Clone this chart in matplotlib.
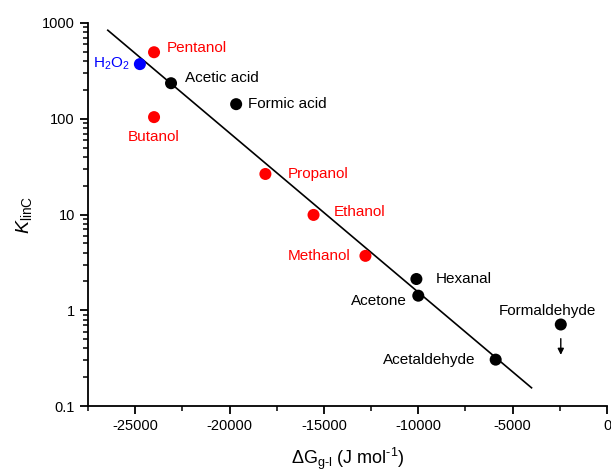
# K_linC versus gas-liquid free energy, log scale
import matplotlib.pyplot as plt
from matplotlib.ticker import FuncFormatter, LogLocator, MultipleLocator
import numpy as np

plt.rcParams['font.family'] = ['Liberation Sans', 'DejaVu Sans']
plt.rcParams['mathtext.fontset'] = 'custom'
plt.rcParams['mathtext.rm'] = 'Liberation Sans'
plt.rcParams['mathtext.it'] = 'Liberation Sans:italic'
plt.rcParams['axes.unicode_minus'] = False

# ------ Data ------
names = ['Pentanol', 'H$_2$O$_2$', 'Acetic acid', 'Formic acid', 'Butanol', 'Propanol',
         'Ethanol', 'Methanol', 'Hexanal', 'Acetone', 'Acetaldehyde', 'Formaldehyde']
dG = [-24000, -24750, -23100, -19650, -24000, -18100, -15550, -12800, -10100, -10000, -5900, -2450]
K = [495, 372, 235, 142, 104, 26.5, 9.9, 3.7, 2.12, 1.42, 0.305, 0.71]
colors = ['red', 'blue', 'black', 'black', 'red', 'red', 'red', 'red', 'black', 'black', 'black', 'black']

# fitted line end points
fit_dG = [-26450, -4000]
fit_K = [840, 0.155]

# upper-limit arrow for formaldehyde
arrow_K = [0.54, 0.32]

# label offsets in points and alignment
offsets = [(9, 3), (-7, 0), (10, 4), (8.5, 0), (0, -14.5), (16, 0), (14.5, 2), (-11, 0),
           (14, 0), (-8.5, -3.5), (-14.5, 0), (-9.5, 9.5)]
aligns = ['left', 'right', 'left', 'left', 'center', 'left', 'left', 'right', 'left', 'right', 'right', 'center']

# ------ Plot ------
fig = plt.figure(figsize=(6.11, 4.73), dpi=100)
ax = fig.add_axes([0.144, 0.1416, 0.8495, 0.8098])

ax.plot(fit_dG, fit_K, color='black', lw=1.2, zorder=1)
ax.scatter(dG, K, c=colors, s=75, edgecolors='none', zorder=2)

for n, x, y, c, off, ha in zip(names, dG, K, colors, offsets, aligns):
    ax.annotate(n, (x, y), xytext=off, textcoords='offset points', ha=ha, va='center',
                color=c, fontsize=11)

ax.annotate('', xy=(dG[-1], arrow_K[1]), xytext=(dG[-1], arrow_K[0]),
            arrowprops=dict(arrowstyle='-|>', color='black', lw=1, mutation_scale=9))

ax.set_yscale('log')
ax.set_xlim(-27500, 0)
ax.set_ylim(0.1, 1000)
ax.xaxis.set_major_locator(MultipleLocator(5000))
ax.xaxis.set_minor_locator(MultipleLocator(2500))
ax.yaxis.set_major_locator(LogLocator(base=10))
ax.yaxis.set_minor_locator(LogLocator(base=10, subs=np.arange(2, 10)))
ax.yaxis.set_major_formatter(FuncFormatter(lambda v, p: '%g' % v))

for s in ['top', 'right']:
    ax.spines[s].set_visible(False)
for s in ['left', 'bottom']:
    ax.spines[s].set_linewidth(1.3)
ax.tick_params(which='major', direction='out', length=6, width=1.3, labelsize=10.5)
ax.tick_params(which='minor', direction='out', length=3.5, width=1.1)

ax.set_xlabel('$\\Delta$G$_{\\rm g\\text{-}l}$ (J mol$^{\\rm \\text{-}1}$)', fontsize=13, labelpad=9)
ax.set_ylabel('$K$$_{\\rm linC}$', fontsize=14, labelpad=6)

plt.savefig('out.png')
